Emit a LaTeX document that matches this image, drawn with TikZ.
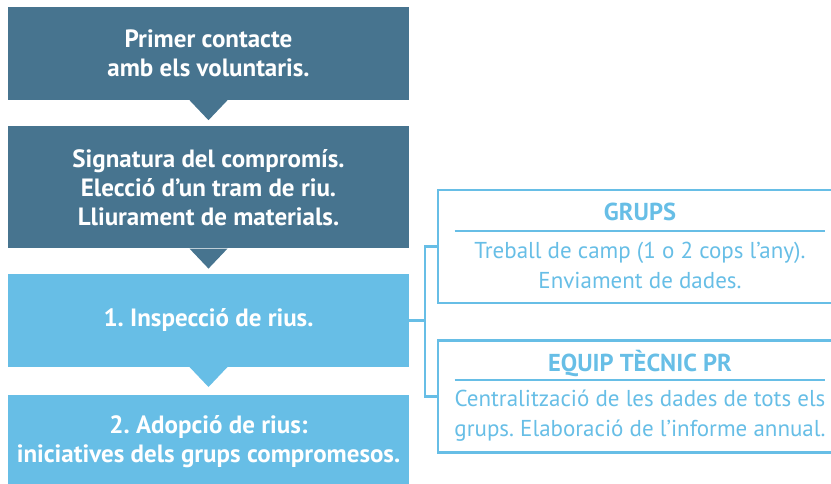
\documentclass[tikz,border=0pt]{standalone}
\usepackage{fontspec}
\setmainfont{PT Sans}
\frenchspacing
\usetikzlibrary{positioning}
\definecolor{darkblue}{RGB}{71,116,143}
\definecolor{lightblue}{RGB}{103,190,230}
\begin{document}
\begin{tikzpicture}[x=1pt, y=1pt]

\tikzstyle{stage}=[minimum width=401pt, inner sep=0pt, align=center, text=white, font=\fontsize{25}{29}\selectfont\bfseries]
\tikzstyle{dark}=[stage, fill=darkblue]
\tikzstyle{light}=[stage, fill=lightblue]
\tikzstyle{role}=[draw=lightblue, line width=2.7pt, minimum width=404pt, inner sep=0pt]
\tikzstyle{header}=[text=lightblue, font=\fontsize{24.5}{28}\selectfont\bfseries]
\tikzstyle{body}=[text=lightblue, align=center, font=\fontsize{23}{30}\selectfont]
\tikzstyle{rule}=[draw=lightblue, line width=2pt]
\tikzstyle{line}=[draw=lightblue, line width=2.5pt]

\useasboundingbox (0,0) rectangle (831,483);

\node[dark, minimum height=93pt] (contact) at (208.5,429.5) {Primer contacte\\amb els voluntaris.};
\node[dark, minimum height=122pt, below=26pt of contact] (signature) {Signatura del compromís.\\Elecció d’un tram de riu.\\Lliurament de materials.};
\node[light, minimum height=93pt, below=25pt of signature] (inspection) {1. Inspecció de rius.};
\node[light, minimum height=93pt, below=28pt of inspection] (adoption) {2. Adopció de rius:\\iniciatives dels grups compromesos.};

\fill[darkblue] ([xshift=-19pt]contact.south) -- ([xshift=19pt]contact.south) -- ([yshift=-20pt]contact.south) -- cycle;
\fill[darkblue] ([xshift=-19pt]signature.south) -- ([xshift=19pt]signature.south) -- ([yshift=-20pt]signature.south) -- cycle;
\fill[lightblue] ([xshift=-19pt]inspection.south) -- ([xshift=19pt]inspection.south) -- ([yshift=-20pt]inspection.south) -- cycle;

\node[role, minimum height=113pt] (groups) at (640,236.5) {};
\node[role, minimum height=112pt, below=35pt of groups] (team) {};

\node[header] (groups_header) at ([yshift=-23pt]groups.north) {GRUPS};
\path[rule] ([xshift=18pt, yshift=-42pt]groups.north west) -- ([xshift=-18pt, yshift=-42pt]groups.north east);
\node[body] (groups_body) at ([yshift=-77pt]groups.north) {Treball de camp (1 o 2 cops l’any).\\Enviament de dades.};

\node[header] (team_header) at ([yshift=-24pt]team.north) {EQUIP TÈCNIC PR};
\path[rule] ([xshift=18pt, yshift=-41pt]team.north west) -- ([xshift=-18pt, yshift=-41pt]team.north east);
\node[body] (team_body) at ([yshift=-76pt]team.north) {Centralització de les dades de tots els\\grups. Elaboració de l’informe annual.};

\coordinate[right=16pt of inspection.east] (fork);
\path[line] (inspection.east) -- (fork);
\path[line] (groups.west) -| (fork) |- (team.west);

\end{tikzpicture}
\end{document}
